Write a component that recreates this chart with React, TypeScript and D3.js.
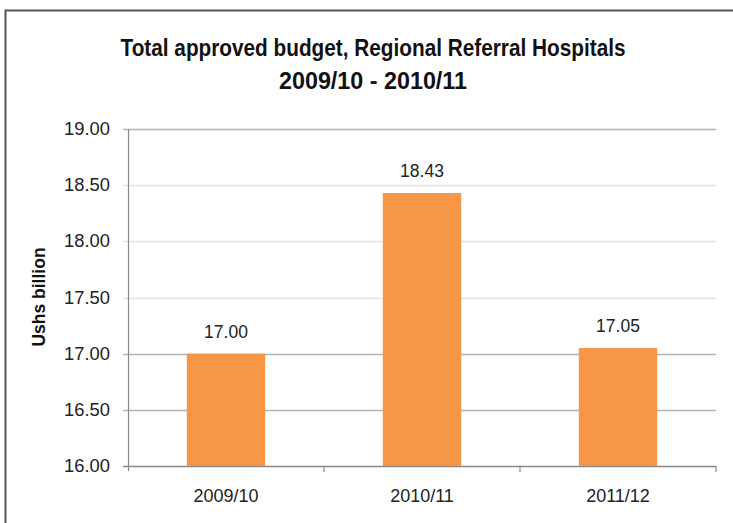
import React from "react";
import * as d3 from "d3";

const categories = ["2009/10", "2010/11", "2011/12"];
const values = [17.0, 18.43, 17.05];
const yTicks = [16, 16.5, 17, 17.5, 18, 18.5, 19];
const titleLines = ["Total approved budget, Regional Referral Hospitals", "2009/10 - 2010/11"];
const yLabel = "Ushs billion";

export default function App() {
  const W = 733, H = 523;
  const left = 128, right = 716, top = 129, bottom = 466;
  const x = d3.scaleBand<string>().domain(categories).range([left, right]).paddingInner(0.6).paddingOuter(0.3);
  const xb = d3.scaleBand<string>().domain(categories).range([left, right]);
  const y = d3.scaleLinear().domain([16, 19]).range([bottom, top]);
  const font = "'Liberation Sans', Arial, sans-serif";
  const darkGrid = new Set([19, 17, 16.5]);
  return (
    <svg width={W} height={H} style={{ position: "absolute", left: 0, top: 0 }}>
      <rect x={0} y={0} width={W} height={H} fill="#fff" />
      <rect x={5.5} y={10.5} width={W + 10} height={H + 10} fill="none" stroke="#555" strokeWidth={2} />
      <text x={373} y={56} textAnchor="middle" fontFamily={font} fontWeight="bold" fontSize={23} fill="#111"
        textLength={505} lengthAdjust="spacingAndGlyphs">{titleLines[0]}</text>
      <text x={373} y={89} textAnchor="middle" fontFamily={font} fontWeight="bold" fontSize={23} fill="#111"
        textLength={188} lengthAdjust="spacingAndGlyphs">{titleLines[1]}</text>
      {yTicks.map((t) => (
        <g key={t}>
          <line x1={left - 5} x2={right} y1={Math.round(y(t)) + 0.5} y2={Math.round(y(t)) + 0.5}
            stroke={t === 16 ? "#888" : darkGrid.has(t) ? "#b4b4b4" : "#e2e2e2"} strokeWidth={1.5} />
          <text x={110} y={y(t) + 6} textAnchor="end" fontFamily={font} fontSize={17.5} fill="#222"
            textLength={46} lengthAdjust="spacingAndGlyphs">{t.toFixed(2)}</text>
        </g>
      ))}
      {categories.map((c, i) => (
        <g key={c}>
          <rect x={x(c)} y={y(values[i])} width={x.bandwidth()} height={bottom - y(values[i])} fill="#f79646" />
          <text x={x(c)! + x.bandwidth() / 2} y={y(values[i]) - 16} textAnchor="middle" fontFamily={font}
            fontSize={17.5} fill="#222">{values[i].toFixed(2)}</text>
          <text x={xb(c)! + xb.bandwidth() / 2} y={502} textAnchor="middle" fontFamily={font}
            fontSize={18} fill="#222">{c}</text>
          <line x1={xb(c)! + xb.bandwidth()} x2={xb(c)! + xb.bandwidth()} y1={bottom} y2={bottom + 6} stroke="#888" strokeWidth={1.2} />
        </g>
      ))}
      <line x1={left + 0.5} x2={left + 0.5} y1={top} y2={bottom + 5} stroke="#888" strokeWidth={1.2} />
      <line x1={left} x2={right} y1={bottom + 0.5} y2={bottom + 0.5} stroke="#888" strokeWidth={1.2} />
      <text transform={`translate(45, 297) rotate(-90)`} textAnchor="middle" fontFamily={font} fontWeight="bold"
        fontSize={17.5} fill="#111">{yLabel}</text>
    </svg>
  );
}
